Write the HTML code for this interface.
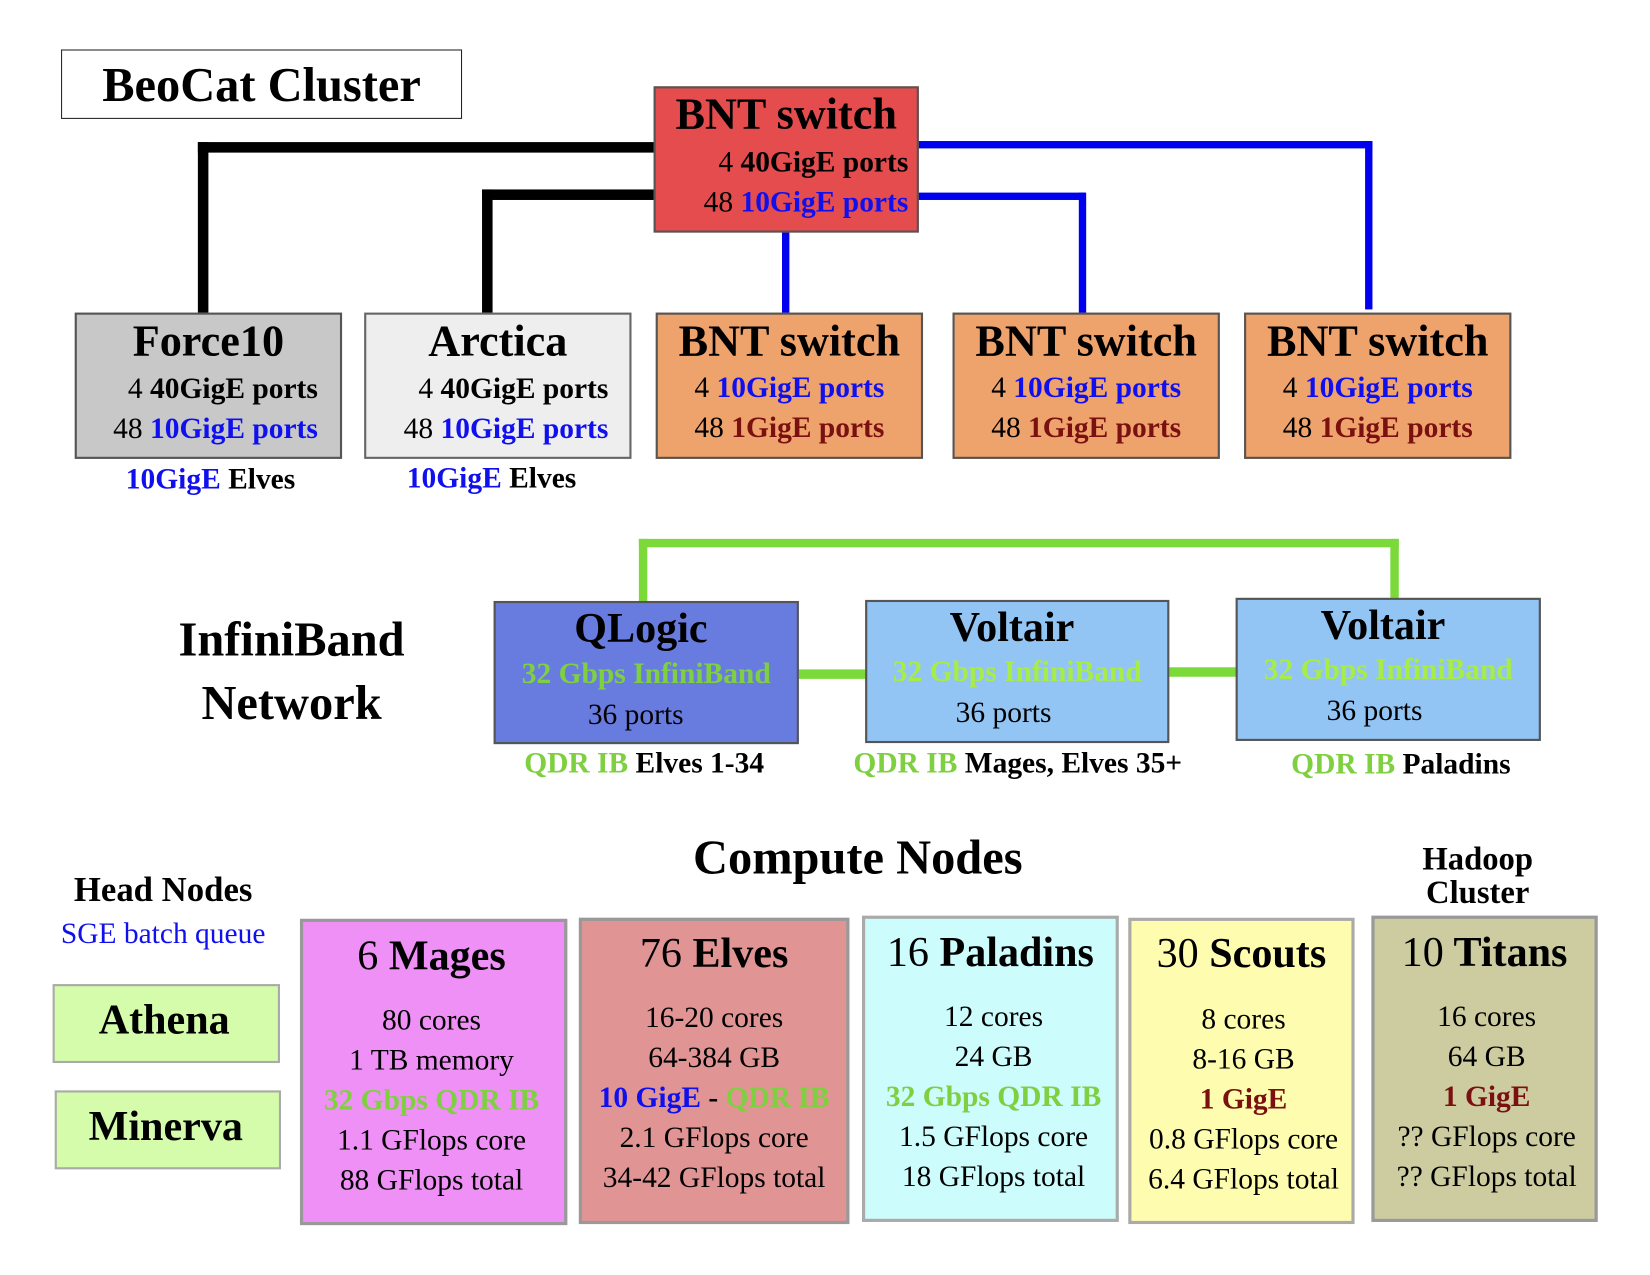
<!DOCTYPE html>
<html><head><meta charset="utf-8"><style>
html,body{margin:0;padding:0;background:#fff;width:1650px;height:1275px;overflow:hidden}
#w{position:absolute;left:0;top:0;width:1560px;height:1205px;transform:scale(1.0525);transform-origin:0 0;font-family:"Liberation Serif",serif;font-weight:bold;color:#000}
.b{position:absolute;box-sizing:border-box}
.t{position:absolute;text-align:center;white-space:nowrap;line-height:1}
.l{position:absolute;background:#000}
.bl{position:absolute;background:#0000ee}
.g{position:absolute;background:#7bd93a}
.blue{color:#1010ee}.gr{color:#7fd040}.mr{color:#7a1010}.n{font-weight:normal}
.s{font-size:28px}.h{font-size:42px}
</style></head><body><div id="w">
<div class="l" style="left:188px;top:135px;width:436px;height:10px"></div>
<div class="l" style="left:188px;top:135px;width:10px;height:164px"></div>
<div class="l" style="left:458px;top:180px;width:166px;height:10px"></div>
<div class="l" style="left:458px;top:180px;width:10px;height:119px"></div>
<div class="bl" style="left:743px;top:218px;width:7px;height:80px"></div>
<div class="bl" style="left:870px;top:183px;width:161px;height:7px"></div>
<div class="bl" style="left:1025px;top:183px;width:7px;height:115px"></div>
<div class="bl" style="left:870px;top:134px;width:434px;height:7px"></div>
<div class="bl" style="left:1297px;top:134px;width:7px;height:160px"></div>
<div class="g" style="left:607px;top:512px;width:722px;height:8px"></div>
<div class="g" style="left:607px;top:512px;width:8px;height:60px"></div>
<div class="g" style="left:1321px;top:512px;width:8px;height:58px"></div>
<div class="g" style="left:756px;top:636px;width:68px;height:9px"></div>
<div class="g" style="left:1108px;top:634px;width:68px;height:9px"></div>

<div class="b" style="left:58px;top:47px;width:381px;height:66px;border:1.5px solid #222"></div>
<div class="t" style="left:58px;top:58px;width:381px;font-size:46px">BeoCat Cluster</div>

<div class="b" style="left:621px;top:82px;width:252px;height:139px;background:#e44c4e;border:2px solid #555"></div>
<div class="t h" style="left:621px;top:88px;width:252px">BNT switch</div>
<div class="t s" style="left:621px;top:141px;width:242px;text-align:right"><span class="n">4</span> 40GigE ports</div>
<div class="t s" style="left:621px;top:179px;width:242px;text-align:right"><span class="n">48</span> <span class="blue">10GigE ports</span></div>

<div class="b" style="left:71px;top:297px;width:254px;height:139px;background:#c8c8c8;border:2px solid #555"></div>
<div class="t h" style="left:71px;top:304px;width:254px">Force10</div>
<div class="t s" style="left:71px;top:356px;width:231px;text-align:right"><span class="n">4</span> 40GigE ports</div>
<div class="t s" style="left:71px;top:394px;width:231px;text-align:right"><span class="n">48</span> <span class="blue">10GigE ports</span></div>
<div class="t s" style="left:71px;top:442px;width:258px"><span class="blue">10GigE</span> Elves</div>

<div class="b" style="left:346px;top:297px;width:254px;height:139px;background:#eeeeee;border:2px solid #666"></div>
<div class="t h" style="left:346px;top:304px;width:254px">Arctica</div>
<div class="t s" style="left:346px;top:356px;width:232px;text-align:right"><span class="n">4</span> 40GigE ports</div>
<div class="t s" style="left:346px;top:394px;width:232px;text-align:right"><span class="n">48</span> <span class="blue">10GigE ports</span></div>
<div class="t s" style="left:346px;top:441px;width:242px"><span class="blue">10GigE</span> Elves</div>

<div class="b" style="left:623px;top:297px;width:254px;height:139px;background:#eea26c;border:2px solid #555"></div>
<div class="t h" style="left:623px;top:304px;width:254px">BNT switch</div>
<div class="t s" style="left:623px;top:355px;width:254px"><span class="n">4</span> <span class="blue">10GigE ports</span></div>
<div class="t s" style="left:623px;top:393px;width:254px"><span class="n">48</span> <span class="mr">1GigE ports</span></div>

<div class="b" style="left:905px;top:297px;width:254px;height:139px;background:#eea26c;border:2px solid #555"></div>
<div class="t h" style="left:905px;top:304px;width:254px">BNT switch</div>
<div class="t s" style="left:905px;top:355px;width:254px"><span class="n">4</span> <span class="blue">10GigE ports</span></div>
<div class="t s" style="left:905px;top:393px;width:254px"><span class="n">48</span> <span class="mr">1GigE ports</span></div>

<div class="b" style="left:1182px;top:297px;width:254px;height:139px;background:#eea26c;border:2px solid #555"></div>
<div class="t h" style="left:1182px;top:304px;width:254px">BNT switch</div>
<div class="t s" style="left:1182px;top:355px;width:254px"><span class="n">4</span> <span class="blue">10GigE ports</span></div>
<div class="t s" style="left:1182px;top:393px;width:254px"><span class="n">48</span> <span class="mr">1GigE ports</span></div>

<div class="t" style="left:127px;top:578px;width:300px;font-size:46px;line-height:60px">InfiniBand<br>Network</div>

<div class="b" style="left:469px;top:571px;width:290px;height:136px;background:#687ce0;border:2px solid #555"></div>
<div class="t" style="left:464px;top:577px;width:290px;font-size:40px">QLogic</div>
<div class="t s gr" style="left:469px;top:627px;width:290px">32 Gbps InfiniBand</div>
<div class="t s n" style="left:459px;top:666px;width:290px">36 ports</div>
<div class="t s" style="left:462px;top:712px;width:300px"><span class="gr">QDR IB</span> Elves 1-34</div>

<div class="b" style="left:822px;top:570px;width:289px;height:136px;background:#92c4f4;border:2px solid #555"></div>
<div class="t" style="left:817px;top:576px;width:289px;font-size:40px">Voltair</div>
<div class="t s" style="left:822px;top:625px;width:289px;color:#a8ec48">32 Gbps InfiniBand</div>
<div class="t s n" style="left:809px;top:664px;width:289px">36 ports</div>
<div class="t s" style="left:767px;top:712px;width:400px"><span class="gr">QDR IB</span> Mages, Elves 35+</div>

<div class="b" style="left:1174px;top:568px;width:290px;height:136px;background:#92c4f4;border:2px solid #555"></div>
<div class="t" style="left:1169px;top:574px;width:290px;font-size:40px">Voltair</div>
<div class="t s" style="left:1174px;top:623px;width:290px;color:#a8ec48">32 Gbps InfiniBand</div>
<div class="t s n" style="left:1161px;top:662px;width:290px">36 ports</div>
<div class="t s" style="left:1181px;top:713px;width:300px"><span class="gr">QDR IB</span> Paladins</div>

<div class="t" style="left:565px;top:792px;width:500px;font-size:46px">Compute Nodes</div>
<div class="t" style="left:5px;top:830px;width:300px;font-size:33px">Head Nodes</div>
<div class="t s n" style="left:5px;top:874px;width:300px;color:#1010ee">SGE batch queue</div>
<div class="t" style="left:1254px;top:800px;width:300px;font-size:31px;line-height:32px">Hadoop<br>Cluster</div>

<div class="b" style="left:50px;top:935px;width:216px;height:75px;background:#d4fcaa;border:2px solid #aaa"></div>
<div class="t" style="left:50px;top:949px;width:212px;font-size:40px">Athena</div>
<div class="b" style="left:52px;top:1036px;width:215px;height:75px;background:#d4fcaa;border:2px solid #aaa"></div>
<div class="t" style="left:52px;top:1050px;width:211px;font-size:40px">Minerva</div>

<div class="b" style="left:285px;top:873px;width:254px;height:291px;background:#ef90f6;border:3px solid #999"></div>
<div class="t" style="left:285px;top:888px;width:250px;font-size:40px"><span class="n">6</span> Mages</div>
<div class="t s n" style="left:285px;top:951px;width:250px;line-height:38px">80 cores<br>1 TB memory<br><b class="gr">32 Gbps QDR IB</b><br>1.1 GFlops core<br>88 GFlops total</div>

<div class="b" style="left:550px;top:872px;width:257px;height:291px;background:#e09494;border:3px solid #999"></div>
<div class="t" style="left:550px;top:886px;width:257px;font-size:40px"><span class="n">76</span> Elves</div>
<div class="t s n" style="left:550px;top:949px;width:257px;line-height:38px">16-20 cores<br>64-384 GB<br><b><span class="blue">10 GigE</span> - <span class="gr">QDR IB</span></b><br>2.1 GFlops core<br>34-42 GFlops total</div>

<div class="b" style="left:819px;top:870px;width:244px;height:291px;background:#ccfcfc;border:3px solid #aaa"></div>
<div class="t" style="left:819px;top:885px;width:244px;font-size:40px"><span class="n">16</span> Paladins</div>
<div class="t s n" style="left:822px;top:948px;width:244px;line-height:38px">12 cores<br>24 GB<br><b class="gr">32 Gbps QDR IB</b><br>1.5 GFlops core<br>18 GFlops total</div>

<div class="b" style="left:1072px;top:872px;width:215px;height:291px;background:#fefcae;border:3px solid #aaa"></div>
<div class="t" style="left:1072px;top:886px;width:215px;font-size:40px"><span class="n">30</span> Scouts</div>
<div class="t s n" style="left:1074px;top:950px;width:215px;line-height:38px">8 cores<br>8-16 GB<br><b class="mr">1 GigE</b><br>0.8 GFlops core<br>6.4 GFlops total</div>

<div class="b" style="left:1303px;top:870px;width:215px;height:291px;background:#cccca0;border:3px solid #999"></div>
<div class="t" style="left:1303px;top:885px;width:215px;font-size:40px"><span class="n">10</span> Titans</div>
<div class="t s n" style="left:1305px;top:948px;width:215px;line-height:38px">16 cores<br>64 GB<br><b class="mr">1 GigE</b><br>?? GFlops core<br>?? GFlops total</div>
</div></body></html>
